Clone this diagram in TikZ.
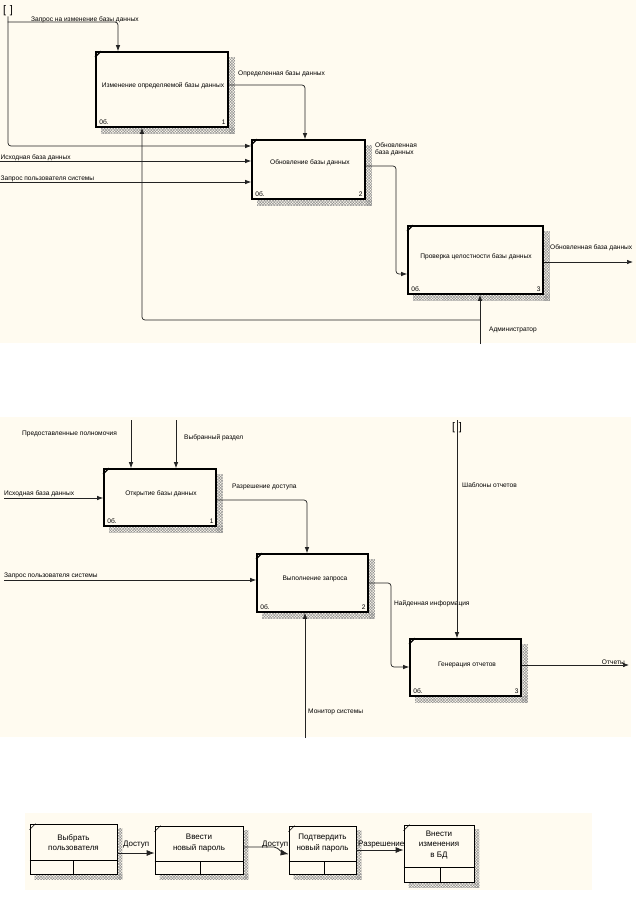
\documentclass[tikz,border=0pt]{standalone}
\usepackage{fontspec}
\setmainfont{Liberation Sans}
\usetikzlibrary{arrows.meta,calc,patterns.meta}
\definecolor{bgc}{RGB}{255,251,240}
\definecolor{lnc}{RGB}{35,35,35}
\pgfdeclarelayer{bgl}
\pgfdeclarelayer{shl}
\pgfsetlayers{bgl,shl,main}
\tikzset{
  idef/.style={draw=black, line width=1.7pt, fill=bgc, inner sep=0pt},
  sbox/.style={draw=black, line width=0.8pt, fill=bgc, inner sep=0pt},
  conn/.style={draw=lnc, line width=0.7pt, rounded corners=3pt, -{Latex[length=6pt,width=4.5pt]}},
  bconn/.style={draw=lnc, line width=0.8pt, rounded corners=2pt, -{Latex[length=8pt,width=6pt]}},
  lbl/.style={font=\fontsize{6.6}{7.6}\selectfont, inner sep=0pt},
  blbl/.style={font=\fontsize{8}{10.5}\selectfont, inner sep=0pt, align=center},
  brk/.style={inner sep=0pt, font=\fontsize{11}{11}\selectfont},
  shadowfill/.style={pattern={Hatch[angle=45,distance=2pt,line width=0.5pt]}, pattern color=gray!85},
}
\newcommand{\mkshadow}[2]{%
  \begin{pgfonlayer}{shl}
  \fill[shadowfill] ($(#1.north east)+(0,#2)$) rectangle ($(#1.south east)+(#2,#2)$);
  \fill[shadowfill] ($(#1.south west)+(#2,0)$) rectangle ($(#1.south east)+(#2,#2)$);
  \end{pgfonlayer}}
\newcommand{\mkcorner}[2]{%
  \draw[line width=#2] ($(#1.north west)+(0,6)$) -- ($(#1.north west)+(6,0)$);}
\newcommand{\mktags}[2]{%
  \node[lbl, anchor=base west] (#1o) at ($(#1.south west)+(4,-3)$) {0б.};
  \node[lbl, anchor=base east] (#1n) at ($(#1.south east)+(-3,-3)$) {#2};}
\begin{document}
\begin{tikzpicture}[x=1pt,y=-1pt]
\useasboundingbox (0,0) rectangle (636,898);
\begin{pgfonlayer}{bgl}
  \fill[white] (0,0) rectangle (636,898);
  \fill[bgc] (0,0) rectangle (636,343);
  \fill[bgc] (0,417) rectangle (631,737);
  \fill[bgc] (25,813) rectangle (592,890);
\end{pgfonlayer}

% ---------------- top diagram ----------------
\node[idef, minimum width=132pt, minimum height=75pt] (t1) at (162,89.5) {};
\node[idef, minimum width=113pt, minimum height=59pt] (t2) at (308.5,169.5) {};
\node[idef, minimum width=135pt, minimum height=68pt] (t3) at (475.5,260) {};
\mkshadow{t1}{6}\mkshadow{t2}{6}\mkshadow{t3}{6}
\mkcorner{t1}{1.2pt}\mkcorner{t2}{1.2pt}\mkcorner{t3}{1.2pt}
\mktags{t1}{1}\mktags{t2}{2}\mktags{t3}{3}
\node[lbl] (t1txt) at (163,86) {Изменение определяемой базы данных};
\node[lbl] (t2txt) at (310,163) {Обновление базы данных};
\node[lbl] (t3txt) at (476,257) {Проверка целостности базы данных};

\node[brk] (br1) at (8,11) {[\,\,]};
\coordinate (j1) at (7.5,22);
\draw[conn] (br1.south) |- (t2.west |- 0,146);
\draw[conn] (j1) -| (t1.north -| 118,0);
\node[lbl, anchor=base west] (l1) at (31,21) {Запрос на изменение базы данных};

\coordinate (s1) at (-1,161);
\draw[conn] (s1) -- (t2.west |- s1);
\node[lbl, anchor=base west] (l2) at (0.5,159) {Исходная база данных};
\coordinate (s2) at (-1,182);
\draw[conn] (s2) -- (t2.west |- s2);
\node[lbl, anchor=base west] (l3) at (0.5,180) {Запрос пользователя системы};

\draw[conn] (t1.east |- 0,85) -| (t2.north -| 305,0);
\node[lbl, anchor=base west] (l4) at (238,75.5) {Определенная базы данных};

\draw[conn] (t2.east |- 0,166) -| (396,274) -- (t3.west |- 0,274);
\node[lbl, anchor=north west, align=left] (l5) at (375,142) {Обновленная\\база данных};

\coordinate (o1) at (633,262);
\draw[conn] (t3.east |- o1) -- (o1);
\node[lbl, anchor=base west] (l6) at (550,249.5) {Обновленная база данных};

\coordinate (a1) at (480,344);
\coordinate (a2) at (480,320);
\draw[conn] (a1) -- (t3.south -| a1);
\draw[conn] (a2) -| (t1.south -| 142,0);
\node[lbl, anchor=base west] (l7) at (489,331) {Администратор};

% ---------------- middle diagram ----------------
\node[idef, minimum width=112pt, minimum height=57pt] (m1) at (160,497.5) {};
\node[idef, minimum width=111pt, minimum height=58pt] (m2) at (312.5,583) {};
\node[idef, minimum width=111pt, minimum height=57pt] (m3) at (465.5,667.5) {};
\mkshadow{m1}{6}\mkshadow{m2}{6}\mkshadow{m3}{6}
\mkcorner{m1}{1.2pt}\mkcorner{m2}{1.2pt}\mkcorner{m3}{1.2pt}
\mktags{m1}{1}\mktags{m2}{2}\mktags{m3}{3}
\node[lbl] (m1txt) at (161,494) {Открытие базы данных};
\node[lbl] (m2txt) at (315,579) {Выполнение запроса};
\node[lbl] (m3txt) at (467,665) {Генерация отчетов};

\coordinate (c1) at (131,420);
\coordinate (c2) at (176,420);
\draw[conn] (c1) -- (m1.north -| c1);
\draw[conn] (c2) -- (m1.north -| c2);
\node[lbl, anchor=base west] (n1) at (22,435) {Предоставленные полномочия};
\node[lbl, anchor=base west] (n2) at (184,439) {Выбранный раздел};

\coordinate (i1) at (4,498);
\draw[conn] (i1) -- (m1.west |- i1);
\node[lbl, anchor=base west] (n3) at (4,495.5) {Исходная база данных};

\draw[conn] (m1.east |- 0,500) -| (m2.north -| 307,0);
\node[lbl, anchor=base west] (n4) at (232,488) {Разрешение доступа};

\coordinate (i2) at (4,580);
\draw[conn] (i2) -- (m2.west |- i2);
\node[lbl, anchor=base west] (n5) at (4,577.5) {Запрос пользователя системы};

\coordinate (mm) at (305,738);
\draw[conn] (mm) -- (m2.south -| mm);
\node[lbl, anchor=base west] (n6) at (308,713) {Монитор системы};

\draw[conn] (m2.east |- 0,583) -| (391,667) -- (m3.west |- 0,667);
\node[lbl, anchor=base west] (n7) at (394,605) {Найденная информация};

\node[brk] (br2) at (457,428) {[\,\,]};
\coordinate (c3) at (457,420);
\draw[conn] (c3) -- (m3.north -| c3);
\node[lbl, anchor=base west] (n8) at (462,487) {Шаблоны отчетов};

\coordinate (o2) at (629,665);
\draw[conn] (m3.east |- o2) -- (o2);
\node[lbl, anchor=base east] (n9) at (625,664) {Отчеты};

% ---------------- bottom diagram ----------------
\node[sbox, minimum width=87pt, minimum height=50pt] (p1) at (73.5,849) {};
\node[sbox, minimum width=88pt, minimum height=48pt] (p2) at (199,850) {};
\node[sbox, minimum width=67pt, minimum height=48pt] (p3) at (322.5,850) {};
\node[sbox, minimum width=70pt, minimum height=57pt] (p4) at (439,853.5) {};
\mkshadow{p1}{5}\mkshadow{p2}{5}\mkshadow{p3}{5}\mkshadow{p4}{5}
\mkcorner{p1}{0.6pt}\mkcorner{p2}{0.6pt}\mkcorner{p3}{0.6pt}\mkcorner{p4}{0.6pt}
\draw[line width=0.8pt] (p1.west |- 0,860) -- (p1.east |- 0,860) (73,860) -- (p1.south -| 73,0);
\draw[line width=0.8pt] (p2.west |- 0,861) -- (p2.east |- 0,861) (200,861) -- (p2.south -| 200,0);
\draw[line width=0.8pt] (p3.west |- 0,861) -- (p3.east |- 0,861) (324,861) -- (p3.south -| 324,0);
\draw[line width=0.8pt] (p4.west |- 0,867) -- (p4.east |- 0,867) (440,867) -- (p4.south -| 440,0);
\node[blbl] (p1txt) at (73.5,842.5) {Выбрать\\пользователя};
\node[blbl] (p2txt) at (199,843) {Ввести\\новый пароль};
\node[blbl] (p3txt) at (322.5,843) {Подтвердить\\новый пароль};
\node[blbl] (p4txt) at (439,845) {Внести\\изменения\\в БД};

\draw[bconn] (p1.east |- 0,853) -- (p2.west |- 0,853);
\node[blbl, anchor=base west] (q1) at (123,846) {Доступ};
\draw[bconn] (p2.east |- 0,847) -- (276,847) -- (283,853) -- (p3.west |- 0,854);
\node[blbl, anchor=base west] (q2) at (262,846) {Доступ};
\draw[bconn] (p3.east |- 0,850) -- (p4.west |- 0,850);
\node[blbl, anchor=base west] (q3) at (358,846) {Разрешение};
\end{tikzpicture}
\end{document}
